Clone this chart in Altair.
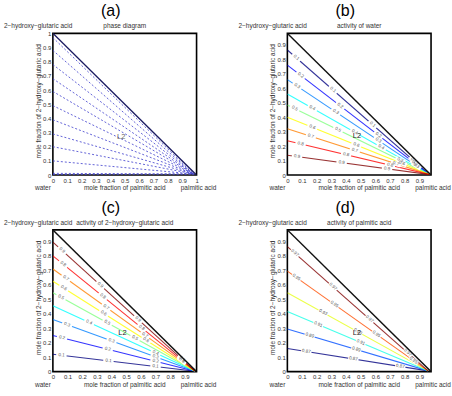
import math
import altair as alt
import numpy as np
import pandas as pd

FONT = "Liberation Sans"
PLOT_W, PLOT_H = 144, 142

# (a) phase diagram: tie lines leaving the water / 2-hydroxy-glutaric acid edge
tie_start_y = [0.004, 0.012, 0.10, 0.20, 0.29, 0.39, 0.49, 0.59, 0.68, 0.78, 0.88, 0.97]
tie_end = (0.98, 0.007)

# (b) activity of water
water_levels = [0.1, 0.2, 0.3, 0.4, 0.5, 0.6, 0.7, 0.8, 0.9]
water_start_y = [0.865, 0.76, 0.66, 0.56, 0.485, 0.40, 0.32, 0.237, 0.137]
water_end = (0.97, 0.003)
water_label_x = [
    [0.06, 0.31, 0.58, 0.86],
    [0.09, 0.36, 0.62, 0.87],
    [0.066, 0.33, 0.62, 0.88],
    [0.17, 0.46, 0.64],
    [0.05, 0.345, 0.77],
    [0.17, 0.47, 0.78],
    [0.16, 0.46, 0.74],
    [0.09, 0.40, 0.70],
    [0.066, 0.37, 0.68],
]

# (c) activity of 2-hydroxy-glutaric acid
hga_levels = [0.1, 0.2, 0.3, 0.4, 0.5, 0.6, 0.7, 0.8, 0.9]
hga_start_y = [0.12, 0.25, 0.36, 0.455, 0.545, 0.625, 0.71, 0.80, 0.895]
hga_end = (0.97, 0.003)
hga_label_x = [
    [0.058, 0.379, 0.70],
    [0.062, 0.374, 0.70],
    [0.097, 0.40, 0.70],
    [0.247, 0.70],
    [0.055, 0.37, 0.56],
    [0.074, 0.346, 0.635],
    [0.088, 0.363, 0.628],
    [0.069, 0.34, 0.605, 0.88],
    [0.062, 0.323, 0.58, 0.88],
]

# (d) activity of palmitic acid
palm_levels = [0.87, 0.89, 0.91, 0.93, 0.95, 0.97]
palm_start_y = [0.16, 0.295, 0.415, 0.545, 0.695, 0.865]
palm_end = (0.96, 0.005)
palm_label_x = [
    [0.129, 0.45, 0.77],
    [0.152, 0.47],
    [0.21, 0.50],
    [0.243, 0.48],
    [0.061, 0.32, 0.607, 0.86],
    [0.05, 0.31, 0.56, 0.82],
]

# jet colour ramps
JET9 = ["#000080", "#0000ff", "#0080ff", "#00ffff", "#80ff80",
        "#ffff00", "#ff8000", "#ff0000", "#800000"]
JET6 = ["#000080", "#004dff", "#1affe6", "#e6ff1a", "#ff4d00", "#800000"]

X_TICKS_FULL = [round(0.1 * i, 1) for i in range(11)]
X_TICKS_SHORT = [round(0.1 * i, 1) for i in range(10)]


def encodings(xmax, ymax, ticks):
    common = dict(format=".1~f", labelFontSize=6, labelFont=FONT, labelColor="#333",
                  domain=False, ticks=False, grid=False, title=None,
                  labelPadding=2, labelFlush=False, labelOverlap=False)
    x = alt.X("x:Q", scale=alt.Scale(domain=[0, xmax], nice=False, zero=False),
              axis=alt.Axis(values=ticks, **common))
    y = alt.Y("y:Q", scale=alt.Scale(domain=[0, ymax], nice=False, zero=False),
              axis=alt.Axis(values=ticks, **common))
    return x, y


def note(text, dx, dy, size, align="center", angle=0, color="#333"):
    return alt.Chart(pd.DataFrame({"t": [text]})).mark_text(
        align=align, baseline="middle", fontSize=size, font=FONT,
        color=color, angle=angle
    ).encode(x=alt.value(dx), y=alt.value(dy), text="t:N")


def decorations(letter, subtitle):
    return [
        note(letter, 58, -22, 16, color="#000"),
        note("2\u2212hydroxy\u2212glutaric acid", -49, -7, 6.5, align="left"),
        note(subtitle, PLOT_W / 2, -7, 6.5),
        note("water", -10, PLOT_H + 13, 6.5),
        note("mole fraction of palmitic acid", PLOT_W / 2, PLOT_H + 13, 6.5),
        note("palmitic acid", 146, PLOT_H + 13, 6.5),
        note("mole fraction of 2\u2212hydroxy\u2212glutaric acid", -14, PLOT_H / 2 - 3, 6.5, angle=270),
    ]


def boundary_layer(xmax, ymax, color, x, y):
    df = pd.DataFrame({"x": [0, xmax], "y": [ymax, 0]})
    return alt.Chart(df).mark_line(color=color, strokeWidth=1.4, clip=True).encode(x=x, y=y)


def contour_panel(letter, subtitle, levels, start_y, end, label_x, colors, fmt):
    xmax = ymax = 0.98
    x, y = encodings(xmax, ymax, X_TICKS_SHORT)
    rows, labels = [], []
    for lev, y0, lxs in zip(levels, start_y, label_x):
        rows.append({"x": 0.0, "y": y0, "lev": lev, "o": 0})
        rows.append({"x": end[0], "y": end[1], "lev": lev, "o": 1})
        dx_px = end[0] / xmax * PLOT_W
        dy_px = (y0 - end[1]) / ymax * PLOT_H
        ang = math.degrees(math.atan2(dy_px, dx_px))
        for lx in lxs:
            ly = float(np.interp(lx, [0, end[0]], [y0, end[1]]))
            labels.append({"x": lx, "y": ly, "txt": fmt.format(lev), "ang": ang})
    lines = pd.DataFrame(rows)
    labs = pd.DataFrame(labels)

    contour = alt.Chart(lines).mark_line(strokeWidth=1.1, strokeOpacity=0.8, clip=True).encode(
        x=x, y=y, order="o:Q",
        color=alt.Color("lev:O", scale=alt.Scale(domain=levels, range=colors), legend=None),
        detail="lev:O",
    )
    boxes = alt.Chart(labs).mark_point(
        shape="M-1,-0.42H1V0.42H-1Z", filled=True, color="white", opacity=1, size=110
    ).encode(x=x, y=y, angle=alt.Angle("ang:Q", scale=None))
    texts = alt.Chart(labs).mark_text(fontSize=4.5, font=FONT, color="#555").encode(
        x=x, y=y, text="txt:N", angle=alt.Angle("ang:Q", scale=None))
    region = alt.Chart(pd.DataFrame({"x": [0.475], "y": [0.27], "t": ["L2"]})).mark_text(
        fontSize=7.5, font=FONT, color="#222").encode(x=x, y=y, text="t:N")
    layers = [contour, boxes, texts, boundary_layer(xmax, ymax, "#111", x, y), region]
    return alt.layer(*layers, *decorations(letter, subtitle)).properties(width=PLOT_W, height=PLOT_H)


def phase_panel():
    x, y = encodings(1.0, 1.0, X_TICKS_FULL)
    rows = []
    for i, y0 in enumerate(tie_start_y):
        rows.append({"x": 0.0, "y": y0, "k": i, "o": 0})
        rows.append({"x": tie_end[0], "y": tie_end[1], "k": i, "o": 1})
    ties = alt.Chart(pd.DataFrame(rows)).mark_line(
        color="#4848d0", strokeWidth=0.85, strokeDash=[2, 2], clip=True
    ).encode(x=x, y=y, order="o:Q", detail="k:N")
    region = alt.Chart(pd.DataFrame({"x": [0.475], "y": [0.27], "t": ["L2"]})).mark_text(
        fontSize=7.5, font=FONT, color="#666").encode(x=x, y=y, text="t:N")
    layers = [ties, boundary_layer(1.0, 1.0, "#1a1a60", x, y), region]
    return alt.layer(*layers, *decorations("(a)", "phase diagram")).properties(width=PLOT_W, height=PLOT_H)


panel_a = phase_panel()
panel_b = contour_panel("(b)", "activity of water", water_levels, water_start_y, water_end,
                        water_label_x, JET9, "{:.1f}")
panel_c = contour_panel("(c)", "activity of 2\u2212hydroxy\u2212glutaric acid", hga_levels, hga_start_y,
                        hga_end, hga_label_x, JET9, "{:.1f}")
panel_d = contour_panel("(d)", "activity of palmitic acid", palm_levels, palm_start_y, palm_end,
                        palm_label_x, JET6, "{:.2f}")

chart = alt.concat(
    panel_a, panel_b, panel_c, panel_d, columns=2,
    spacing={"row": 55, "column": 91}, bounds="flush"
).properties(
    padding={"left": 3, "top": 2, "right": 0, "bottom": 0}, background="white"
).configure_view(stroke="#000", strokeWidth=1.6).resolve_scale(color="independent")

chart.save("out.html", embed_options={"renderer": "svg", "actions": False})
